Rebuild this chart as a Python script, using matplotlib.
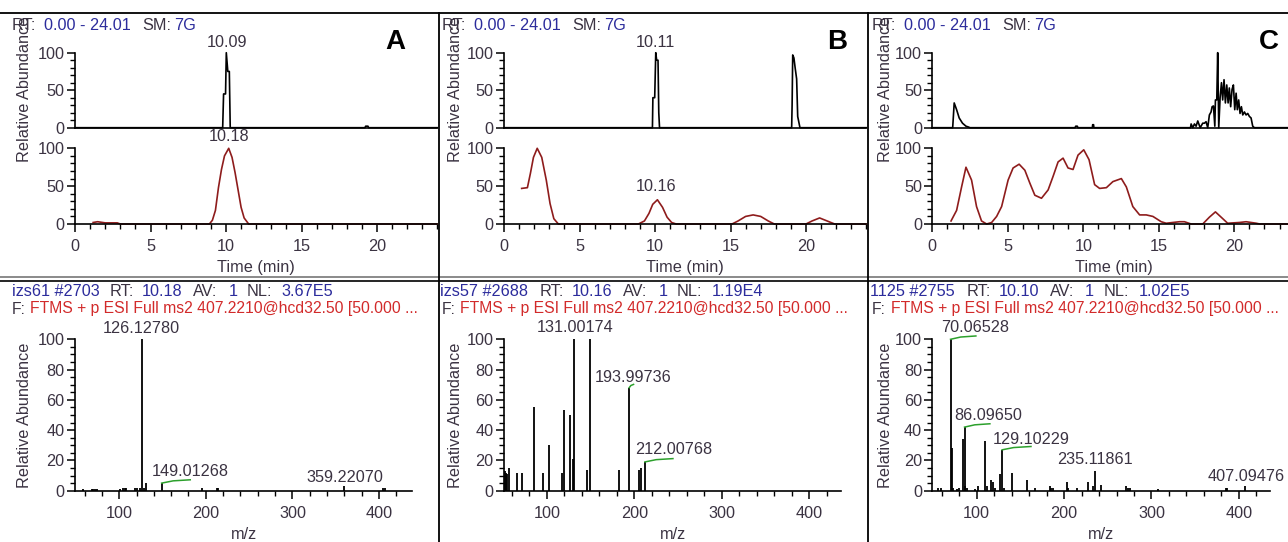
import matplotlib
matplotlib.use('Agg')
import matplotlib.pyplot as plt
from matplotlib.lines import Line2D
from matplotlib.ticker import MultipleLocator

plt.rcParams['font.family'] = ['Liberation Sans', 'DejaVu Sans']

# ---------------- chromatograms (time in min, relative abundance) ----------------
tA_top = [0.0, 9.78, 9.84, 9.97, 10.02, 10.12, 10.22, 10.28, 19.2, 19.25, 19.4, 19.45, 24.0]
aA_top = [0, 0, 45, 45, 100, 75, 75, 0, 0, 2, 2, 0, 0]
tA_bot = [1.2, 1.5, 2.0, 2.8, 3.0, 8.9, 9.1, 9.3, 9.5, 9.7, 9.9, 10.18, 10.4, 10.6, 10.8,
          11.0, 11.2, 11.5, 24.0]
aA_bot = [2, 3, 1.5, 1.5, 0, 0, 5, 18, 48, 72, 90, 100, 88, 68, 45, 22, 8, 0, 0]

tB_top = [0.0, 9.83, 9.86, 9.98, 10.05, 10.11, 10.2, 10.25, 10.3, 19.05, 19.08, 19.12, 19.2,
          19.28, 19.38, 19.45, 19.5, 19.55, 19.6, 24.0]
aB_top = [0, 0, 40, 40, 100, 90, 90, 20, 0, 0, 30, 97, 93, 80, 65, 15, 10, 5, 0, 0]
tB_bot = [1.17, 1.55, 1.75, 1.95, 2.2, 2.5, 2.8, 3.05, 3.3, 3.6, 8.9, 9.3, 9.6, 9.85, 10.16,
          10.5, 10.8, 11.1, 11.4, 15.1, 15.5, 16.0, 16.5, 17.0, 17.5, 17.9, 20.0, 20.4, 20.9,
          21.4, 21.9, 24.0]
aB_bot = [47, 48, 67, 88, 100, 88, 58, 27, 7, 0, 0, 4, 14, 26, 32, 22, 9, 2, 0, 0, 4, 10, 12,
          10, 4, 0, 0, 4, 8, 4, 0, 0]

tC_top = [0.0, 1.35, 1.45, 1.61, 1.78, 2.0, 2.23, 2.38, 2.5, 9.45, 9.5, 9.6, 9.65, 10.6, 10.62,
          10.68, 10.7, 17.1, 17.14, 17.25, 17.36, 17.47, 17.58, 17.74, 17.91, 18.02, 18.13,
          18.24, 18.35, 18.46, 18.53, 18.62, 18.71, 18.75, 18.84, 18.90, 18.97, 19.06, 19.15,
          19.23, 19.32, 19.41, 19.50, 19.59, 19.67, 19.76, 19.85, 19.94, 20.03, 20.12, 20.20,
          20.29, 20.38, 20.47, 20.56, 20.67, 20.78, 20.89, 21.00, 21.11, 21.22, 21.33, 24.0]
aC_top = [0, 0, 33, 24, 13, 6, 2, 1, 0, 0, 2, 2, 0, 0, 4, 4, 0, 0, 5, 0, 5, 2, 9, 0, 6, 6, 8,
          0, 17, 21, 28, 29, 2, 37, 37, 100, 0, 40, 60, 37, 64, 33, 57, 33, 53, 28, 51, 57, 24,
          46, 24, 37, 19, 28, 17, 21, 17, 19, 15, 13, 2, 0, 0]
tC_bot = [1.24, 1.61, 1.94, 2.23, 2.60, 2.93, 3.26, 3.6, 3.93, 4.26, 4.59, 5.02, 5.35, 5.75,
          6.13, 6.46, 6.79, 7.23, 7.67, 8.0, 8.33, 8.66, 8.99, 9.32, 9.65, 10.03, 10.38, 10.75,
          11.08, 11.53, 11.96, 12.52, 12.85, 13.28, 13.73, 14.17, 14.61, 15.16, 15.49, 16.37,
          16.7, 17.14, 17.91, 18.35, 18.75, 19.13, 19.56, 20.34, 20.78, 21.46, 21.68, 24.0]
aC_bot = [4, 18, 49, 75, 58, 23, 4, 0, 2, 10, 23, 58, 74, 79, 71, 54, 38, 34, 45, 63, 82, 87,
          74, 72, 91, 98, 85, 52, 47, 48, 56, 60, 49, 23, 12, 12, 10, 3, 1, 3, 3, 0, 0, 9, 16,
          9, 1, 2, 3, 1, 0, 0]

# ---------------- MS2 spectra (m/z, relative abundance) ----------------
mzA = [58.4, 68.1, 70.0, 71.9, 73.9, 100.8, 104.6, 106.2, 107.7, 118.1, 120.0, 124.0, 126.1278,
       128.2, 130.4, 149.01268, 195.1, 212.4, 214.3, 359.2207, 404.4, 406.3]
relA = [1, 1, 1, 1, 1, 1, 2, 2, 1.5, 1.5, 2, 2, 100, 2, 5, 5, 2, 1.5, 1.5, 3, 2, 1.5]

mzB = [52.0, 53.0, 54.0, 57.0, 66.0, 71.5, 85.0, 95.5, 102.0, 117.5, 119.5, 126.5, 130.0,
       131.00174, 146.0, 149.3, 182.6, 193.99736, 204.8, 207.4, 212.00768]
relB = [13, 12, 11, 15, 12, 12, 55, 12, 30, 12, 53, 50, 21, 100, 14, 100, 14, 68, 14, 15, 19]

mzC = [55.4, 58.8, 70.06528, 71.5, 73.0, 77.0, 80.0, 84.5, 86.0965, 87.0, 89.0, 98.0, 102.0,
       109.5, 112.0, 116.0, 118.5, 121.0, 127.0, 129.10229, 131.0, 140.0, 158.0, 167.0, 183.5,
       185.0, 187.0, 203.0, 205.0, 214.5, 227.0, 233.0, 235.11861, 242.5, 271.0, 273.0, 275.0,
       308.0, 385.5, 386.5, 407.09476]
relC = [1.5, 2, 100, 28, 2, 1, 2, 34, 42, 3, 2, 1, 3, 33, 3, 7, 6, 2, 11, 27, 2, 12, 7, 2, 3,
        2, 1.5, 6, 2, 2, 6, 3, 13, 4, 3, 2, 1.5, 1, 2, 2, 3]

# peak labels: (text, x, y) in data units of each spectrum
labA = [('126.12780', 125.9, 107), ('149.01268', 181.6, 12.5), ('359.22070', 360.6, 8.6)]
labB = [('131.00174', 132.4, 108), ('193.99736', 198.7, 75), ('212.00768', 244.5, 27)]
labC = [('70.06528', 98.1, 108), ('86.09650', 113.3, 50), ('129.10229', 162.9, 33.5),
        ('235.11861', 235.3, 20.3), ('407.09476', 408.9, 9.7)]
# green label leaders: (m/z of peak, height, length in m/z)
leadA = [(149.01268, 5, 33)]
leadB = [(193.99736, 68, 5), (212.00768, 19, 32)]
leadC = [(70.06528, 100, 29), (86.0965, 42, 29), (129.10229, 27, 33)]

W, H = 1288, 542
FS = 11.7
dark = '#3b3342'
blue = '#2c2c9c'
red = '#d22a2a'
trace_red = '#8e1c1c'

fig = plt.figure(figsize=(W / 100, H / 100), dpi=100)


def px_box(left, right, top, bottom):
    return [left / W, 1 - bottom / H, (right - left) / W, (bottom - top) / H]


def style_axes(ax):
    ax.patch.set_visible(False)
    ax.spines['top'].set_visible(False)
    ax.spines['right'].set_visible(False)
    for s in ('left', 'bottom'):
        ax.spines[s].set_linewidth(1.2)
    ax.tick_params(which='major', direction='out', length=6, width=1.1, labelsize=FS,
                   labelcolor=dark, pad=1.5)
    ax.tick_params(which='minor', direction='out', length=3.5, width=1.0)
    ax.tick_params(axis='x', pad=5)


def chrom_axes(left, top, bottom, show_x):
    ax = fig.add_axes(px_box(left, left + 24 * 15.1, top, bottom))
    ax.set_xlim(0, 24)
    ax.set_ylim(0, 100)
    style_axes(ax)
    ax.yaxis.set_major_locator(MultipleLocator(50))
    ax.yaxis.set_minor_locator(MultipleLocator(10))
    if show_x:
        ax.xaxis.set_major_locator(MultipleLocator(5))
        ax.xaxis.set_minor_locator(MultipleLocator(1))
        ax.set_xlabel('Time (min)', fontsize=FS, color=dark, labelpad=4)
    else:
        ax.set_xticks([])
    return ax


def spec_axes(left, right, xlim):
    ax = fig.add_axes(px_box(left, right, 339.3, 490.7))
    ax.set_xlim(*xlim)
    ax.set_ylim(0, 100)
    style_axes(ax)
    ax.xaxis.set_major_locator(MultipleLocator(100))
    ax.xaxis.set_minor_locator(MultipleLocator(20))
    ax.yaxis.set_major_locator(MultipleLocator(20))
    ax.yaxis.set_minor_locator(MultipleLocator(5))
    ax.tick_params(axis='x', pad=5)
    ax.set_xlabel('m/z', fontsize=FS, color=dark, labelpad=4)
    return ax


def header(xs, y, parts, size=FS):
    for x, (s, c) in zip(xs, parts):
        fig.text(x / W, 1 - y / H, s, color=c, fontsize=size, ha='left', va='center')


panels = [
    dict(x0=0, left=75, letter='A', lx=395, tt=tA_top, at=aA_top, tb=tA_bot, ab=aA_bot,
         top_lab=[('10.09', 10.09, 114)], bot_lab=[('10.18', 10.18, 115)],
         mz=mzA, rel=relA, labs=labA, leads=leadA, xlim=(49, 438), sright=412,
         hx=[11.7, 110, 141.7, 193.3, 228.3, 246.7, 281.7],
         hp=[('izs61 #2703', blue), ('RT:', dark), ('10.18', blue), ('AV:', dark), ('1', blue),
             ('NL:', dark), ('3.67E5', blue)]),
    dict(x0=430, left=504, letter='B', lx=837, tt=tB_top, at=aB_top, tb=tB_bot, ab=aB_bot,
         top_lab=[('10.11', 10.0, 114)], bot_lab=[('10.16', 10.1, 49)],
         mz=mzB, rel=relB, labs=labB, leads=leadB, xlim=(51, 436), sright=841,
         hx=[440, 540, 571.7, 623.3, 658.3, 676.7, 711.7],
         hp=[('izs57 #2688', blue), ('RT:', dark), ('10.16', blue), ('AV:', dark), ('1', blue),
             ('NL:', dark), ('1.19E4', blue)]),
    dict(x0=860, left=932.3, letter='C', lx=1269, tt=tC_top, at=aC_top, tb=tC_bot, ab=aC_bot,
         top_lab=[], bot_lab=[],
         mz=mzC, rel=relC, labs=labC, leads=leadC, xlim=(49.2, 435.6), sright=1270,
         hx=[870, 966.7, 998.3, 1050, 1085, 1103.3, 1138.3],
         hp=[('1125 #2755', blue), ('RT:', dark), ('10.10', blue), ('AV:', dark), ('1', blue),
             ('NL:', dark), ('1.02E5', blue)]),
]

for p in panels:
    x0 = p['x0']
    # top chromatogram (black) and bottom one (dark red)
    ax1 = chrom_axes(p['left'], 52.7, 127.7, False)
    ax1.plot(p['tt'], p['at'], color='black', lw=1.2, clip_on=False)
    for s, x, y in p['top_lab']:
        ax1.text(x, y, s, ha='center', va='center', fontsize=FS, color=dark)
    ax2 = chrom_axes(p['left'], 148.3, 224, True)
    ax2.plot(p['tb'], p['ab'], color=trace_red, lw=1.2, clip_on=False)
    for s, x, y in p['bot_lab']:
        ax2.text(x, y, s, ha='center', va='center', fontsize=FS, color=dark)

    header([x0 + 11.5, x0 + 43.5, x0 + 142.5, x0 + 174.5], 25,
           [('RT:', dark), ('0.00 - 24.01', blue), ('SM:', dark), ('7G', blue)])
    fig.text((x0 + 25) / W, 1 - 89 / H, 'Relative Abundance', rotation=90, fontsize=FS,
             color=dark, ha='center', va='center')
    fig.text(p['lx'] / W, 1 - 42 / H, p['letter'], fontsize=20, fontweight='bold',
             ha='center', va='center')

    # MS2 spectrum
    ax3 = spec_axes(p['left'], p['sright'], p['xlim'])
    ax3.vlines(p['mz'], 0, p['rel'], colors='black', lw=1.3)
    for mz, h, ln in p['leads']:
        ax3.plot([mz, mz + ln * 0.4, mz + ln], [h, h + 1.5, h + 2.2], color='#2ca02c', lw=1.1,
                 clip_on=False)
    for s, x, y in p['labs']:
        ax3.text(x, y, s, ha='center', va='center', fontsize=FS, color=dark)
    header(p['hx'], 292, p['hp'])
    header([x0 + 11.7, x0 + 30.5], 309,
           [('F:', dark), ('FTMS + p ESI Full ms2 407.2210@hcd32.50 [50.000 ...', red)], 11.35)
    fig.text((x0 + 25) / W, 1 - 415 / H, 'Relative Abundance', rotation=90, fontsize=FS,
             color=dark, ha='center', va='center')

# panel frame lines
fig.add_artist(Line2D([0, 1], [1 - 12.7 / H] * 2, color='black', lw=1.3))
fig.add_artist(Line2D([0, 1], [1 - 277 / H] * 2, color='#777777', lw=1.2))
fig.add_artist(Line2D([0, 1], [1 - 281 / H] * 2, color='black', lw=1.2))
for xv in (438.5, 867.5):
    fig.add_artist(Line2D([xv / W] * 2, [0, 1 - 12.7 / H], color='black', lw=1.3))

fig.savefig('out.png', dpi=100)
